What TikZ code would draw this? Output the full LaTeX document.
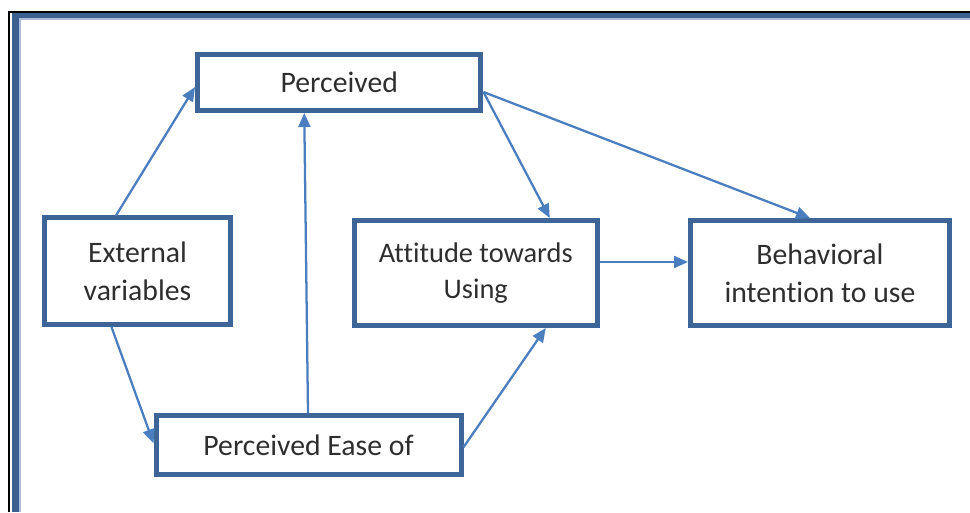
\documentclass[tikz,border=0pt]{standalone}
\usepackage{fontspec}
\setmainfont{Carlito}[Ligatures={NoCommon}]
\usetikzlibrary{arrows.meta,calc}
\definecolor{boxcol}{HTML}{3D6598}
\definecolor{arrcol}{HTML}{4A7EBF}
\definecolor{framecol}{HTML}{3B5F8F}
\definecolor{framelight}{HTML}{A9BCD8}
\definecolor{txtcol}{HTML}{2E2E2E}
\tikzset{
  box/.style={draw=boxcol, line width=3.75pt, rectangle, inner sep=0pt, align=center,
    text=txtcol, font=\fontsize{22.3}{28.5}\selectfont},
  conn/.style={draw=arrcol, line width=1.7pt, -{Triangle[length=10.5pt,width=9pt]}}
}
\begin{document}
\begin{tikzpicture}[x=0.75pt,y=-0.75pt]
\useasboundingbox (0,0) rectangle (970,512);
% frame
\fill[framecol] (12,12) rectangle (19,512);
\fill[framecol] (12,12) rectangle (970,18);
\fill[framelight] (19,18) rectangle (20.5,512);
\fill[framelight] (19,18) rectangle (970,19.5);
\draw[black, line width=1.5pt] (9,512) -- (9,11.5) -- (970,11.5);
% nodes
\node[box, minimum width=212.6pt, minimum height=42pt] (per) at (339.25,82.5) {Perceived};
\node[box, minimum width=139.5pt, minimum height=79.9pt] (ext) at (137.5,271.25) {External\\variables};
\node[box, minimum width=181.9pt, minimum height=78.75pt, font=\fontsize{21.3}{27.5}\selectfont] (att) at (475.75,273) {Attitude towards\\Using};
\node[box, minimum width=194.25pt, minimum height=78.75pt] (beh) at (820,273) {Behavioral\\intention to use};
\node[box, minimum width=228.75pt, minimum height=44.6pt] (ease) at (308.5,445.25) {Perceived Ease of};
% connectors
\draw[conn] ($(ext.north)+(-21.5,0)$) -- ($(per.west)+(0,4.5)$);
\draw[conn] ($(ext.south)+(-26,0)$) -- ($(ease.west)+(0,-2)$);
\draw[conn] ($(ease.north)+(-0.5,0)$) -- ($(per.south)+(-35,0)$);
\draw[conn] ($(ease.east)+(0,2)$) -- ($(att.south)+(70,0)$);
\draw[conn] ($(per.east)+(0,9.5)$) -- ($(att.north)+(74,0)$);
\draw[conn] ($(per.east)+(0,9.5)$) -- ($(beh.north)+(-10,0)$);
\draw[conn] ($(att.east)+(0,-11)$) -- ($(beh.west)+(0,-11)$);
\end{tikzpicture}
\end{document}
